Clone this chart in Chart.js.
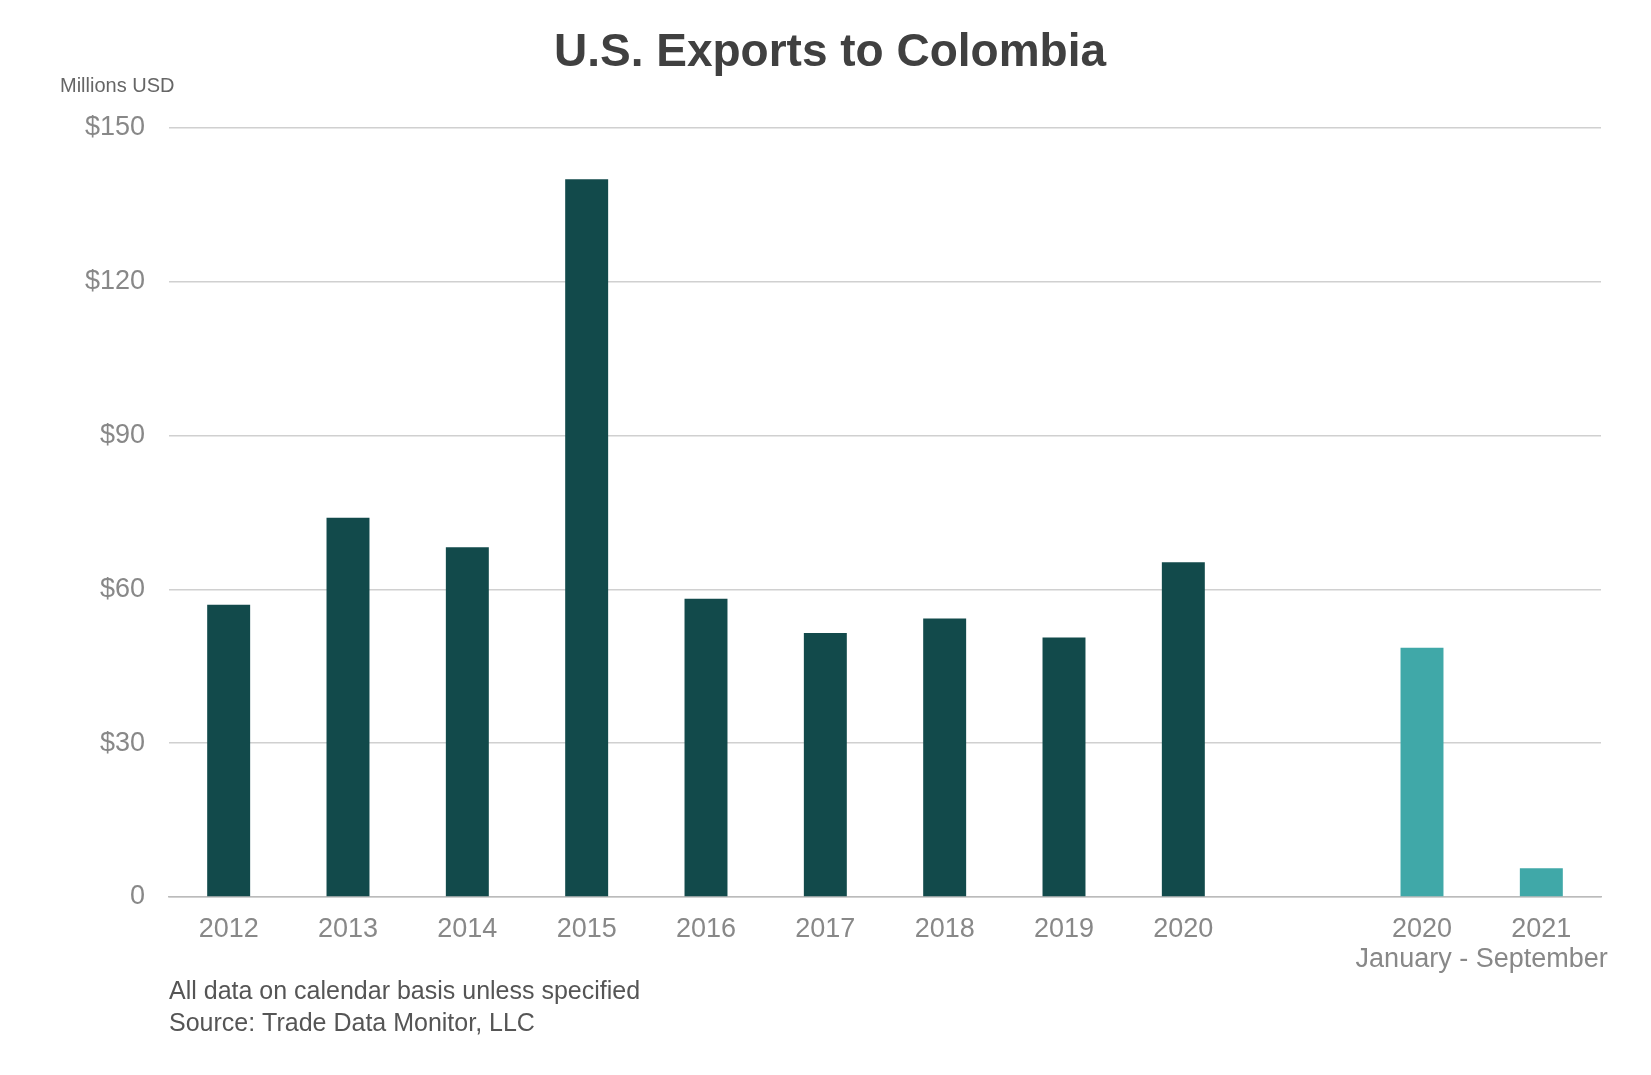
<!DOCTYPE html>
<html>
<head>
<meta charset="utf-8">
<script src="https://cdn.jsdelivr.net/npm/chart.js@4/dist/chart.umd.min.js"></script>
<style>
  body { margin: 0; background: #fff; }
  #wrap { width: 1651px; height: 1075px; }
</style>
</head>
<body>
<div id="wrap"><canvas id="chart"></canvas></div>
<script>
// data
var categories = ['2012', '2013', '2014', '2015', '2016', '2017', '2018', '2019', '2020', '', '2020', '2021'];
var exportsMillions = [57, 74, 68.2, 140, 58.2, 51.5, 54.3, 50.6, 65.3, null, 48.6, 5.6];
var isPartialYear = [false, false, false, false, false, false, false, false, false, false, true, true];
var yTicks = [0, 30, 60, 90, 120, 150];

var FONT = '"Liberation Sans", Arial, sans-serif';

// colour the full-year bars dark, the Jan-Sep bars light
var barColors = isPartialYear.map(function (p) { return p ? '#40a8a8' : '#124a4b'; });

// draws the titles and notes around the plot
var textPlugin = {
  id: 'texts',
  afterDraw: function (chart) {
    var ctx = chart.ctx;
    ctx.save();
    ctx.fillStyle = '#404040';
    ctx.font = 'bold 46px ' + FONT;
    ctx.textAlign = 'center';
    ctx.textBaseline = 'middle';
    ctx.fillText('U.S. Exports to Colombia', 830, 53);

    ctx.textAlign = 'left';
    ctx.fillStyle = '#666';
    ctx.font = '20px ' + FONT;
    ctx.fillText('Millions USD', 60, 86);

    ctx.fillStyle = '#555';
    ctx.font = '25px ' + FONT;
    ctx.fillText('All data on calendar basis unless specified', 169, 992);
    ctx.fillText('Source: Trade Data Monitor, LLC', 169, 1024);

    ctx.fillStyle = '#888';
    ctx.font = '27px ' + FONT;
    ctx.textAlign = 'center';
    var x = chart.scales.x;
    var mid = (x.getPixelForValue(10) + x.getPixelForValue(11)) / 2;
    ctx.fillText('January - September', mid, 960);
    ctx.restore();
  }
};

new Chart(document.getElementById('chart'), {
  type: 'bar',
  data: {
    labels: categories,
    datasets: [{
      data: exportsMillions,
      backgroundColor: barColors,
      barPercentage: 0.36,
      categoryPercentage: 1
    }]
  },
  options: {
    responsive: true,
    maintainAspectRatio: false,
    animation: false,
    layout: { padding: { top: 128, right: 50, bottom: 128, left: 0 } },
    plugins: { legend: { display: false }, tooltip: { enabled: false } },
    scales: {
      x: {
        grid: { display: false },
        border: { color: '#bbb', width: 1.5 },
        ticks: { color: '#888', font: { family: FONT, size: 27 }, padding: 8, maxRotation: 0, autoSkip: false },
        afterFit: function (s) { s.height = 50; }
      },
      y: {
        min: 0, max: 150,
        afterBuildTicks: function (s) { s.ticks = yTicks.map(function (v) { return { value: v }; }); },
        grid: { color: '#d0d0d0', lineWidth: 1.5, drawTicks: false },
        border: { display: false },
        ticks: {
          color: '#888', padding: 24, font: { family: FONT, size: 27 },
          callback: function (v) { return v === 0 ? '0' : '$' + v; }
        },
        afterFit: function (s) { s.width = 169; }
      }
    }
  },
  plugins: [textPlugin]
});
</script>
</body>
</html>
